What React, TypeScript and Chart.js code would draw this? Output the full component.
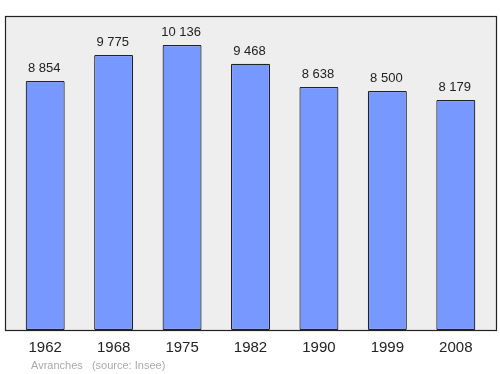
import React, { useEffect, useRef } from "react";
import { Chart, registerables } from "chart.js";

Chart.register(...registerables);

const years = ["1962", "1968", "1975", "1982", "1990", "1999", "2008"];
const population = [8854, 9775, 10136, 9468, 8638, 8500, 8179];
const valueLabels = ["8 854", "9 775", "10 136", "9 468", "8 638", "8 500", "8 179"];
const footerText = "Avranches   (source: Insee)";

const FONT = "'Liberation Sans', Arial, sans-serif";

export default function App() {
  const ref = useRef<HTMLCanvasElement | null>(null);

  useEffect(() => {
    document.body.style.margin = "0";
    const canvas = ref.current;
    if (!canvas) return;

    const bgPlugin = {
      id: "bgBox",
      beforeDraw(chart: any) {
        const { ctx, chartArea } = chart;
        const x0 = chartArea.left - 6;
        const x1 = chartArea.right + 7;
        ctx.save();
        ctx.fillStyle = "#eeeeee";
        ctx.fillRect(x0, chartArea.top, x1 - x0, chartArea.bottom - chartArea.top);
        ctx.strokeStyle = "#222222";
        ctx.lineWidth = 1.2;
        ctx.strokeRect(x0 + 0.5, chartArea.top + 0.5, x1 - x0 - 1, chartArea.bottom - chartArea.top);
        ctx.restore();
      },
      afterDatasetsDraw(chart: any) {
        const { ctx } = chart;
        const meta = chart.getDatasetMeta(0);
        ctx.save();
        ctx.fillStyle = "#222222";
        ctx.font = `13px ${FONT}`;
        ctx.textAlign = "center";
        ctx.textBaseline = "alphabetic";
        meta.data.forEach((bar: any, i: number) => {
          ctx.fillText(valueLabels[i], bar.x - 1, bar.y - 9);
        });
        ctx.font = `11px ${FONT}`;
        ctx.fillStyle = "#aaaaaa";
        ctx.textAlign = "left";
        ctx.fillText(footerText, 31, 369);
        ctx.restore();
      },
    };

    const chart = new Chart(canvas, {
      type: "bar",
      data: {
        labels: years,
        datasets: [
          {
            data: population,
            backgroundColor: "#7799ff",
            borderColor: "#222222",
            borderWidth: 1.2,
            borderRadius: 1,
            borderSkipped: false,
            categoryPercentage: 1,
            barPercentage: 0.57,
          },
        ],
      },
      options: {
        responsive: false,
        animation: false,
        layout: { padding: { top: 16, left: 11, right: 10, bottom: 0 } },
        plugins: {
          legend: { display: false },
          tooltip: { enabled: false },
          title: { display: false },
        },
        scales: {
          x: {
            grid: { display: false, drawTicks: false },
            border: { display: false },
            ticks: {
              color: "#222222",
              font: { size: 15, family: FONT },
              padding: 9,
              maxRotation: 0,
            },
            afterFit: (scale: any) => {
              scale.height = 44;
            },
          },
          y: {
            display: false,
            min: 0,
            max: 11166,
          },
        },
      },
      plugins: [bgPlugin],
    });

    return () => chart.destroy();
  }, []);

  return <canvas ref={ref} width={500} height={374} style={{ display: "block" }} />;
}
